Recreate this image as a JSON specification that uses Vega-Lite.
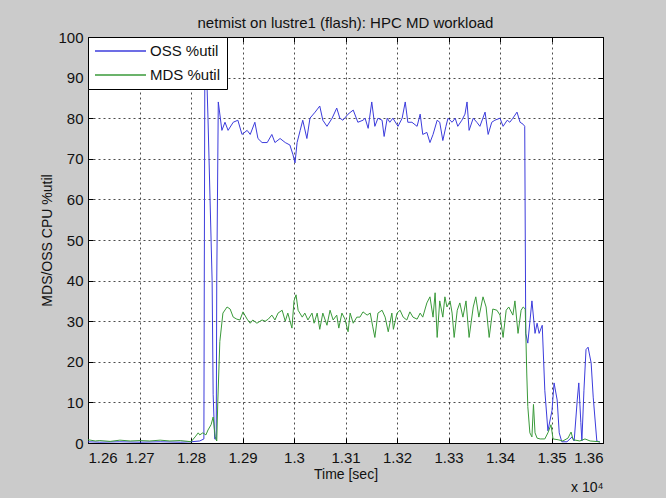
{
  "$schema": "https://vega.github.io/schema/vega-lite/v6.json",
  "width": 515,
  "height": 406,
  "autosize": {"type": "none"},
  "padding": {"left": 88, "top": 37, "right": 63, "bottom": 55},
  "background": "#cbcbcb",
  "title": {"text": "netmist on lustre1 (flash): HPC MD workload", "fontSize": 15, "fontWeight": "normal", "color": "#111", "font": "Liberation Sans", "offset": -1, "anchor": "middle"},
  "data": {"values": [
    {"t":12600,"s":"OSS %util","u":0.3},{"t":12623,"s":"OSS %util","u":0.2},{"t":12662,"s":"OSS %util","u":0.3},{"t":12701,"s":"OSS %util","u":0.2},{"t":12740,"s":"OSS %util","u":0.3},{"t":12779,"s":"OSS %util","u":0.2},{"t":12800,"s":"OSS %util","u":0.3},{"t":12817,"s":"OSS %util","u":0.5},{"t":12825,"s":"OSS %util","u":1},{"t":12827,"s":"OSS %util","u":99},{"t":12829,"s":"OSS %util","u":97},{"t":12833,"s":"OSS %util","u":80},{"t":12837,"s":"OSS %util","u":60},{"t":12841,"s":"OSS %util","u":40},{"t":12843,"s":"OSS %util","u":12},{"t":12846,"s":"OSS %util","u":1},{"t":12849,"s":"OSS %util","u":1},{"t":12850,"s":"OSS %util","u":40},{"t":12853,"s":"OSS %util","u":84},{"t":12860,"s":"OSS %util","u":77},{"t":12866,"s":"OSS %util","u":79},{"t":12872,"s":"OSS %util","u":77},{"t":12882,"s":"OSS %util","u":79},{"t":12891,"s":"OSS %util","u":79.5},{"t":12899,"s":"OSS %util","u":76},{"t":12909,"s":"OSS %util","u":77},{"t":12915,"s":"OSS %util","u":76},{"t":12924,"s":"OSS %util","u":79},{"t":12930,"s":"OSS %util","u":75},{"t":12938,"s":"OSS %util","u":74},{"t":12948,"s":"OSS %util","u":74},{"t":12957,"s":"OSS %util","u":76},{"t":12963,"s":"OSS %util","u":74},{"t":12973,"s":"OSS %util","u":75},{"t":12983,"s":"OSS %util","u":74},{"t":12992,"s":"OSS %util","u":73.4},{"t":12998,"s":"OSS %util","u":71},{"t":13002,"s":"OSS %util","u":69},{"t":13006,"s":"OSS %util","u":74},{"t":13012,"s":"OSS %util","u":77},{"t":13017,"s":"OSS %util","u":79.5},{"t":13025,"s":"OSS %util","u":75},{"t":13031,"s":"OSS %util","u":80},{"t":13041,"s":"OSS %util","u":81.5},{"t":13050,"s":"OSS %util","u":83},{"t":13056,"s":"OSS %util","u":79.5},{"t":13064,"s":"OSS %util","u":78},{"t":13074,"s":"OSS %util","u":80},{"t":13083,"s":"OSS %util","u":82.5},{"t":13089,"s":"OSS %util","u":80},{"t":13095,"s":"OSS %util","u":79.5},{"t":13105,"s":"OSS %util","u":81},{"t":13115,"s":"OSS %util","u":82},{"t":13124,"s":"OSS %util","u":79},{"t":13134,"s":"OSS %util","u":79.5},{"t":13138,"s":"OSS %util","u":80},{"t":13144,"s":"OSS %util","u":77.5},{"t":13151,"s":"OSS %util","u":84},{"t":13157,"s":"OSS %util","u":78},{"t":13163,"s":"OSS %util","u":80},{"t":13171,"s":"OSS %util","u":79.5},{"t":13175,"s":"OSS %util","u":75.5},{"t":13181,"s":"OSS %util","u":80},{"t":13186,"s":"OSS %util","u":79},{"t":13192,"s":"OSS %util","u":80},{"t":13202,"s":"OSS %util","u":78},{"t":13210,"s":"OSS %util","u":80},{"t":13216,"s":"OSS %util","u":84},{"t":13221,"s":"OSS %util","u":79},{"t":13229,"s":"OSS %util","u":79},{"t":13239,"s":"OSS %util","u":78},{"t":13245,"s":"OSS %util","u":81},{"t":13250,"s":"OSS %util","u":76},{"t":13258,"s":"OSS %util","u":76.5},{"t":13264,"s":"OSS %util","u":74},{"t":13270,"s":"OSS %util","u":76},{"t":13278,"s":"OSS %util","u":79.5},{"t":13283,"s":"OSS %util","u":79},{"t":13289,"s":"OSS %util","u":74.5},{"t":13295,"s":"OSS %util","u":78},{"t":13299,"s":"OSS %util","u":80},{"t":13307,"s":"OSS %util","u":79},{"t":13313,"s":"OSS %util","u":80},{"t":13318,"s":"OSS %util","u":78},{"t":13326,"s":"OSS %util","u":79.5},{"t":13332,"s":"OSS %util","u":81},{"t":13336,"s":"OSS %util","u":84},{"t":13340,"s":"OSS %util","u":77},{"t":13348,"s":"OSS %util","u":80},{"t":13355,"s":"OSS %util","u":79},{"t":13361,"s":"OSS %util","u":78},{"t":13371,"s":"OSS %util","u":81.5},{"t":13377,"s":"OSS %util","u":76},{"t":13384,"s":"OSS %util","u":79},{"t":13390,"s":"OSS %util","u":79.5},{"t":13400,"s":"OSS %util","u":80},{"t":13406,"s":"OSS %util","u":78},{"t":13414,"s":"OSS %util","u":79.5},{"t":13419,"s":"OSS %util","u":79},{"t":13425,"s":"OSS %util","u":80},{"t":13433,"s":"OSS %util","u":81.5},{"t":13439,"s":"OSS %util","u":79},{"t":13445,"s":"OSS %util","u":78.5},{"t":13448,"s":"OSS %util","u":78},{"t":13450,"s":"OSS %util","u":27},{"t":13454,"s":"OSS %util","u":24.6},{"t":13462,"s":"OSS %util","u":35},{"t":13468,"s":"OSS %util","u":27},{"t":13472,"s":"OSS %util","u":29.5},{"t":13476,"s":"OSS %util","u":27},{"t":13482,"s":"OSS %util","u":29},{"t":13487,"s":"OSS %util","u":13},{"t":13493,"s":"OSS %util","u":3},{"t":13501,"s":"OSS %util","u":8},{"t":13505,"s":"OSS %util","u":14.8},{"t":13511,"s":"OSS %util","u":10.6},{"t":13515,"s":"OSS %util","u":2.5},{"t":13520,"s":"OSS %util","u":0.3},{"t":13530,"s":"OSS %util","u":0.3},{"t":13540,"s":"OSS %util","u":1.5},{"t":13544,"s":"OSS %util","u":0.5},{"t":13550,"s":"OSS %util","u":10.6},{"t":13553,"s":"OSS %util","u":14.8},{"t":13557,"s":"OSS %util","u":5},{"t":13559,"s":"OSS %util","u":0.5},{"t":13563,"s":"OSS %util","u":13},{"t":13567,"s":"OSS %util","u":23},{"t":13571,"s":"OSS %util","u":23.6},{"t":13577,"s":"OSS %util","u":19.7},{"t":13581,"s":"OSS %util","u":11.3},{"t":13588,"s":"OSS %util","u":0.5},{"t":13594,"s":"OSS %util","u":0.2},
    {"t":12600,"s":"MDS %util","u":0.8},{"t":12614,"s":"MDS %util","u":0.5},{"t":12623,"s":"MDS %util","u":0.6},{"t":12643,"s":"MDS %util","u":0.4},{"t":12662,"s":"MDS %util","u":0.7},{"t":12682,"s":"MDS %util","u":0.5},{"t":12701,"s":"MDS %util","u":0.6},{"t":12720,"s":"MDS %util","u":0.5},{"t":12740,"s":"MDS %util","u":0.7},{"t":12759,"s":"MDS %util","u":0.5},{"t":12779,"s":"MDS %util","u":0.6},{"t":12794,"s":"MDS %util","u":0.4},{"t":12800,"s":"MDS %util","u":0.3},{"t":12808,"s":"MDS %util","u":1.5},{"t":12814,"s":"MDS %util","u":2.5},{"t":12817,"s":"MDS %util","u":2},{"t":12823,"s":"MDS %util","u":2.5},{"t":12829,"s":"MDS %util","u":2},{"t":12833,"s":"MDS %util","u":3.2},{"t":12839,"s":"MDS %util","u":4.5},{"t":12843,"s":"MDS %util","u":6.4},{"t":12847,"s":"MDS %util","u":1.5},{"t":12850,"s":"MDS %util","u":0.5},{"t":12852,"s":"MDS %util","u":10},{"t":12856,"s":"MDS %util","u":25},{"t":12862,"s":"MDS %util","u":32},{"t":12870,"s":"MDS %util","u":33.5},{"t":12876,"s":"MDS %util","u":33},{"t":12882,"s":"MDS %util","u":31},{"t":12889,"s":"MDS %util","u":30.5},{"t":12895,"s":"MDS %util","u":30.3},{"t":12901,"s":"MDS %util","u":32.3},{"t":12909,"s":"MDS %util","u":30.5},{"t":12915,"s":"MDS %util","u":29.5},{"t":12920,"s":"MDS %util","u":30.3},{"t":12928,"s":"MDS %util","u":29.5},{"t":12938,"s":"MDS %util","u":30.3},{"t":12944,"s":"MDS %util","u":30},{"t":12950,"s":"MDS %util","u":30.5},{"t":12957,"s":"MDS %util","u":31.5},{"t":12963,"s":"MDS %util","u":30.3},{"t":12969,"s":"MDS %util","u":32},{"t":12977,"s":"MDS %util","u":32.7},{"t":12983,"s":"MDS %util","u":30},{"t":12988,"s":"MDS %util","u":32},{"t":12996,"s":"MDS %util","u":28.3},{"t":13000,"s":"MDS %util","u":35},{"t":13004,"s":"MDS %util","u":36.5},{"t":13008,"s":"MDS %util","u":32.7},{"t":13016,"s":"MDS %util","u":31},{"t":13021,"s":"MDS %util","u":32},{"t":13027,"s":"MDS %util","u":30.3},{"t":13035,"s":"MDS %util","u":32},{"t":13039,"s":"MDS %util","u":29.5},{"t":13045,"s":"MDS %util","u":32},{"t":13050,"s":"MDS %util","u":28},{"t":13056,"s":"MDS %util","u":32},{"t":13064,"s":"MDS %util","u":29},{"t":13070,"s":"MDS %util","u":32.7},{"t":13076,"s":"MDS %util","u":30.3},{"t":13083,"s":"MDS %util","u":31.5},{"t":13087,"s":"MDS %util","u":28.3},{"t":13093,"s":"MDS %util","u":32},{"t":13099,"s":"MDS %util","u":30.5},{"t":13105,"s":"MDS %util","u":27.4},{"t":13109,"s":"MDS %util","u":32},{"t":13115,"s":"MDS %util","u":29.5},{"t":13122,"s":"MDS %util","u":31},{"t":13128,"s":"MDS %util","u":31},{"t":13134,"s":"MDS %util","u":32.3},{"t":13142,"s":"MDS %util","u":31.5},{"t":13148,"s":"MDS %util","u":32},{"t":13153,"s":"MDS %util","u":28.6},{"t":13157,"s":"MDS %util","u":26},{"t":13163,"s":"MDS %util","u":32},{"t":13171,"s":"MDS %util","u":32.7},{"t":13177,"s":"MDS %util","u":31},{"t":13183,"s":"MDS %util","u":27.4},{"t":13190,"s":"MDS %util","u":32},{"t":13193,"s":"MDS %util","u":28},{"t":13200,"s":"MDS %util","u":32},{"t":13206,"s":"MDS %util","u":32.7},{"t":13212,"s":"MDS %util","u":31},{"t":13219,"s":"MDS %util","u":30.3},{"t":13225,"s":"MDS %util","u":32.3},{"t":13231,"s":"MDS %util","u":31},{"t":13239,"s":"MDS %util","u":30.5},{"t":13245,"s":"MDS %util","u":32},{"t":13250,"s":"MDS %util","u":31},{"t":13258,"s":"MDS %util","u":34.5},{"t":13264,"s":"MDS %util","u":36},{"t":13270,"s":"MDS %util","u":31},{"t":13274,"s":"MDS %util","u":37},{"t":13278,"s":"MDS %util","u":26},{"t":13283,"s":"MDS %util","u":35},{"t":13289,"s":"MDS %util","u":31},{"t":13293,"s":"MDS %util","u":36},{"t":13297,"s":"MDS %util","u":33.5},{"t":13303,"s":"MDS %util","u":35},{"t":13307,"s":"MDS %util","u":32},{"t":13311,"s":"MDS %util","u":26},{"t":13317,"s":"MDS %util","u":32.7},{"t":13322,"s":"MDS %util","u":34.5},{"t":13328,"s":"MDS %util","u":31},{"t":13334,"s":"MDS %util","u":35},{"t":13340,"s":"MDS %util","u":26},{"t":13348,"s":"MDS %util","u":33.5},{"t":13353,"s":"MDS %util","u":36},{"t":13359,"s":"MDS %util","u":31},{"t":13367,"s":"MDS %util","u":36},{"t":13373,"s":"MDS %util","u":33.5},{"t":13379,"s":"MDS %util","u":26},{"t":13386,"s":"MDS %util","u":33},{"t":13394,"s":"MDS %util","u":32.7},{"t":13400,"s":"MDS %util","u":31.5},{"t":13406,"s":"MDS %util","u":26},{"t":13412,"s":"MDS %util","u":32.7},{"t":13417,"s":"MDS %util","u":33.5},{"t":13425,"s":"MDS %util","u":31.5},{"t":13429,"s":"MDS %util","u":35},{"t":13435,"s":"MDS %util","u":27},{"t":13441,"s":"MDS %util","u":32.7},{"t":13445,"s":"MDS %util","u":33.5},{"t":13449,"s":"MDS %util","u":33},{"t":13452,"s":"MDS %util","u":17},{"t":13454,"s":"MDS %util","u":9},{"t":13458,"s":"MDS %util","u":2.5},{"t":13462,"s":"MDS %util","u":1.5},{"t":13465,"s":"MDS %util","u":9.5},{"t":13468,"s":"MDS %util","u":2.5},{"t":13472,"s":"MDS %util","u":1.2},{"t":13478,"s":"MDS %util","u":1},{"t":13487,"s":"MDS %util","u":1},{"t":13493,"s":"MDS %util","u":2.5},{"t":13499,"s":"MDS %util","u":4.5},{"t":13503,"s":"MDS %util","u":1},{"t":13513,"s":"MDS %util","u":0.8},{"t":13522,"s":"MDS %util","u":0.5},{"t":13532,"s":"MDS %util","u":1.2},{"t":13538,"s":"MDS %util","u":2.7},{"t":13542,"s":"MDS %util","u":0.8},{"t":13555,"s":"MDS %util","u":0.5},{"t":13565,"s":"MDS %util","u":1},{"t":13575,"s":"MDS %util","u":0.5},{"t":13594,"s":"MDS %util","u":0.3}
  ]},
  "resolve": {"axis": {"x": "independent", "y": "independent"}},
  "layer": [
    {
      "mark": {"type": "line", "strokeWidth": 1, "clip": true},
      "encoding": {
        "x": {"field": "t", "type": "quantitative",
              "scale": {"domain": [12600, 13600], "nice": false, "zero": false},
              "axis": {"values": [12600,12700,12800,12900,13000,13100,13200,13300,13400,13500,13600],
                       "labelExpr": "format(datum.value/10000, '.2~f')", "labelPadding": 12, "title": "Time [sec]", "titlePadding": 2}},
        "y": {"field": "u", "type": "quantitative",
              "scale": {"domain": [0, 100], "nice": false},
              "axis": {"values": [0,10,20,30,40,50,60,70,80,90,100], "title": "MDS/OSS CPU %util", "titlePadding": 3}},
        "color": {"field": "s", "type": "nominal",
                  "scale": {"domain": ["OSS %util", "MDS %util"], "range": ["#3c3cdc", "#3a9a3a"]},
                  "legend": {"title": null}}
      }
    },
    {
      "mark": {"type": "point", "opacity": 0},
      "encoding": {
        "x": {"field": "t", "type": "quantitative",
              "axis": {"orient": "top", "values": [12600,12700,12800,12900,13000,13100,13200,13300,13400,13500,13600], "labels": false, "title": null, "grid": false}},
        "y": {"field": "u", "type": "quantitative",
              "axis": {"orient": "right", "values": [0,10,20,30,40,50,60,70,80,90,100], "labels": false, "title": null, "grid": false}}
      }
    },
    {
      "mark": {"type": "point", "opacity": 0},
      "encoding": {
        "x": {"field": "t", "type": "quantitative",
              "axis": {"orient": "bottom", "offset": 33, "labels": false, "ticks": false, "grid": false, "title": "x 10⁴", "titleAnchor": "end", "titleFontSize": 14}},
        "y": {"field": "u", "type": "quantitative", "axis": null}
      }
    }
  ],
  "config": {
    "font": "Liberation Sans",
    "view": {"stroke": "black", "strokeWidth": 1, "fill": "white"},
    "axis": {"domain": false, "grid": true, "gridColor": "black", "gridDash": [2, 3], "gridOpacity": 0.7,
             "tickColor": "black", "tickSize": -5, "labelColor": "#111", "labelFontSize": 15, "labelFont": "Liberation Sans",
             "labelPadding": 10, "titleFont": "Liberation Sans", "titleFontSize": 14, "titleFontWeight": "normal", "titleColor": "#111"},
    "legend": {"orient": "top-left", "offset": 0, "strokeColor": "black", "fillColor": "white", "padding": 6,
               "symbolType": "stroke", "symbolSize": 2600, "symbolStrokeWidth": 1.3, "labelFontSize": 15, "labelColor": "#111",
               "labelOffset": 3, "rowPadding": 8, "clipHeight": 16, "labelFont": "Liberation Sans"}
  }
}
